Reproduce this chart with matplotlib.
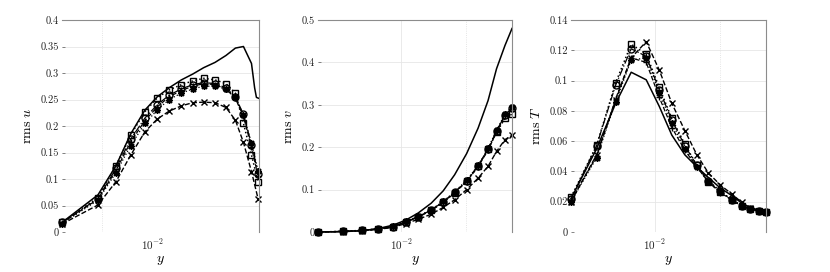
import numpy as np
import matplotlib
matplotlib.use('Agg')
import matplotlib.pyplot as plt

# wall-normal positions (shared grid, first point differs in the u panel)
y_grid = [0.00243, 0.003745, 0.005166, 0.006718, 0.00866, 0.01079, 0.01334, 0.01662,
          0.02036, 0.02473, 0.03032, 0.03683, 0.04362, 0.05037, 0.05815, 0.06551]
y_u = [0.00197] + y_grid[1:]

# rms u
u_ref_y = [0.00197, 0.003745, 0.005166, 0.006718, 0.00866, 0.01079, 0.01334, 0.01662,
           0.02036, 0.02473, 0.03032, 0.03683, 0.04362, 0.05037, 0.05815, 0.0615, 0.0635, 0.0665]
u_ref = [0.018, 0.07, 0.125, 0.185, 0.23, 0.255, 0.272, 0.287,
         0.298, 0.31, 0.32, 0.333, 0.347, 0.35, 0.318, 0.272, 0.254, 0.252]
u_cross = [0.015, 0.051, 0.095, 0.145, 0.189, 0.213, 0.228, 0.238,
           0.244, 0.245, 0.244, 0.235, 0.211, 0.169, 0.114, 0.062]
u_square = [0.018, 0.065, 0.125, 0.183, 0.227, 0.253, 0.268, 0.278,
            0.285, 0.29, 0.287, 0.28, 0.262, 0.205, 0.145, 0.095]
u_circle = [0.018, 0.063, 0.12, 0.175, 0.215, 0.24, 0.258, 0.27,
            0.278, 0.282, 0.28, 0.272, 0.255, 0.222, 0.165, 0.11]
u_star = [0.016, 0.06, 0.112, 0.163, 0.205, 0.23, 0.25, 0.262,
          0.27, 0.275, 0.275, 0.27, 0.255, 0.22, 0.168, 0.115]
u_plus = [0.017, 0.062, 0.116, 0.17, 0.21, 0.236, 0.255, 0.267,
          0.275, 0.28, 0.278, 0.27, 0.252, 0.218, 0.16, 0.105]

# rms v
v_ref = [0.0, 0.001, 0.003, 0.008, 0.016, 0.028, 0.045, 0.068,
         0.097, 0.135, 0.185, 0.245, 0.31, 0.385, 0.44, 0.48]
v_cross = [0.0, 0.001, 0.003, 0.006, 0.011, 0.02, 0.03, 0.042,
           0.058, 0.076, 0.1, 0.127, 0.155, 0.19, 0.218, 0.228]
v_square = [0.0, 0.0015, 0.004, 0.007, 0.0125, 0.024, 0.036, 0.052,
            0.07, 0.093, 0.12, 0.155, 0.195, 0.235, 0.268, 0.278]
v_circle = [0.0, 0.0015, 0.004, 0.007, 0.0125, 0.024, 0.036, 0.052,
            0.071, 0.094, 0.121, 0.156, 0.196, 0.238, 0.276, 0.292]
v_star = [0.0, 0.0015, 0.004, 0.007, 0.013, 0.025, 0.037, 0.053,
          0.072, 0.095, 0.122, 0.157, 0.197, 0.24, 0.278, 0.295]
v_plus = [0.0, 0.0015, 0.004, 0.007, 0.012, 0.023, 0.035, 0.051,
          0.069, 0.092, 0.119, 0.154, 0.193, 0.236, 0.274, 0.29]

# rms T
T_ref = [0.022, 0.055, 0.085, 0.1055, 0.1005, 0.083, 0.064, 0.051,
         0.043, 0.036, 0.029, 0.024, 0.019, 0.016, 0.0145, 0.0135]
T_cross = [0.02, 0.051, 0.087, 0.115, 0.1257, 0.107, 0.085, 0.067,
           0.051, 0.039, 0.031, 0.025, 0.0195, 0.016, 0.014, 0.013]
T_square = [0.023, 0.0572, 0.0986, 0.124, 0.1175, 0.0955, 0.075, 0.058,
            0.044, 0.033, 0.0265, 0.0214, 0.0174, 0.0152, 0.0141, 0.013]
T_circle = [0.022, 0.057, 0.097, 0.121, 0.116, 0.094, 0.074, 0.057,
            0.044, 0.034, 0.027, 0.021, 0.017, 0.015, 0.014, 0.013]
T_star = [0.02, 0.049, 0.086, 0.1135, 0.115, 0.092, 0.072, 0.055,
          0.043, 0.033, 0.027, 0.021, 0.017, 0.015, 0.014, 0.013]
T_plus = [0.021, 0.05, 0.088, 0.115, 0.112, 0.089, 0.069, 0.054,
          0.043, 0.033, 0.026, 0.021, 0.017, 0.015, 0.014, 0.013]

u_ticks = [0, 0.05, 0.1, 0.15, 0.2, 0.25, 0.3, 0.35, 0.4]
v_ticks = [0, 0.1, 0.2, 0.3, 0.4, 0.5]
T_ticks = [0, 0.02, 0.04, 0.06, 0.08, 0.1, 0.12, 0.14]

plt.rcParams['font.family'] = 'serif'
plt.rcParams['font.serif'] = ['cmr10']
plt.rcParams['mathtext.fontset'] = 'cm'
plt.rcParams['axes.formatter.use_mathtext'] = True

fig = plt.figure(figsize=(8.3, 2.72), dpi=100)
rects = [[62 / 830, 40 / 272, 197 / 830, 212 / 272],
         [318 / 830, 40 / 272, 194 / 830, 212 / 272],
         [571 / 830, 40 / 272, 195 / 830, 212 / 272]]

star = (8, 2, 0)
mk = dict(markersize=5, markerfacecolor='none', markeredgecolor='k', markeredgewidth=1.0)


def draw_panel(ax, x_pts, ref_x, ref, cross, square, circle, stars, plus):
    ax.plot(ref_x, ref, 'k-', linewidth=1.1)
    ax.plot(x_pts, cross, 'k--', marker='x', linewidth=1.0, **mk)
    ax.plot(x_pts, circle, 'k-.', marker='o', linewidth=0.9, **mk)
    ax.plot(x_pts, stars, 'k:', marker=star, linewidth=0.9, **mk)
    ax.plot(x_pts, plus, 'k--', marker='+', linewidth=0.9, **mk)
    ax.plot(x_pts, square, 'k:', marker='s', linewidth=1.1, **mk)


def style_axes(ax, xlim, yticks, ylabel, vgrid_major, vgrid_minor):
    ax.set_xscale('log')
    ax.set_xlim(xlim)
    ax.set_ylim(yticks[0], yticks[-1])
    ax.set_yticks(yticks)
    ax.set_yticklabels(['%g' % t for t in yticks])
    ax.set_xticks([0.01])
    ax.set_xticklabels([r'$10^{-2}$'])
    ax.xaxis.set_minor_locator(matplotlib.ticker.NullLocator())
    ax.yaxis.grid(True, color='#e6e6e6', linewidth=0.6)
    for xv in vgrid_major:
        ax.axvline(xv, color='#e6e6e6', linewidth=0.6, zorder=0)
    for xv in vgrid_minor:
        ax.axvline(xv, color='#dcdcdc', linewidth=0.6, linestyle=':', zorder=0)
    ax.set_axisbelow(True)
    ax.tick_params(direction='in', length=2, width=0.5, colors='#555555',
                   labelsize=7.5, labelcolor='#222222', pad=2)
    ax.tick_params(axis='x', length=0, pad=4, labelsize=8)
    for side in ['left', 'bottom']:
        ax.spines[side].set_visible(False)
    for side in ['top', 'right']:
        ax.spines[side].set_color('#8c8c8c')
        ax.spines[side].set_linewidth(0.8)
    ax.set_xlabel(r'$y$', fontsize=10, labelpad=1)
    ax.set_ylabel(ylabel, fontsize=10, labelpad=5)


ax1 = fig.add_axes(rects[0])
draw_panel(ax1, y_u, u_ref_y, u_ref, u_cross, u_square, u_circle, u_star, u_plus)
style_axes(ax1, (0.00197, 0.0665), u_ticks, r'$\mathrm{rms}\ u$', [], [0.004])

ax2 = fig.add_axes(rects[1])
draw_panel(ax2, y_grid, y_grid, v_ref, v_cross, v_square, v_circle, v_star, v_plus)
style_axes(ax2, (0.00243, 0.0655), v_ticks, r'$\mathrm{rms}\ v$', [0.01], [0.03])

ax3 = fig.add_axes(rects[2])
draw_panel(ax3, y_grid, y_grid, T_ref, T_cross, T_square, T_circle, T_star, T_plus)
style_axes(ax3, (0.00243, 0.0655), T_ticks, r'$\mathrm{rms}\ T$', [0.01], [0.03])

for ax in (ax1, ax2, ax3):
    for line in ax.lines[:6]:
        line.set_clip_on(False)

plt.savefig('out.png', dpi=100)
plt.close()
